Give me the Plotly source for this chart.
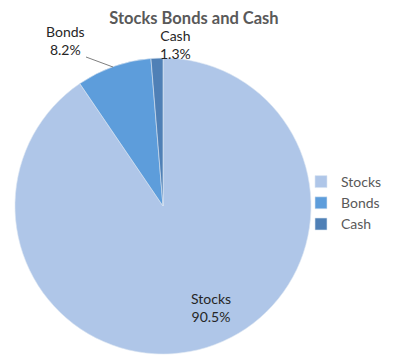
import plotly.graph_objects as go

labels = ["Stocks", "Bonds", "Cash"]
values = [90.5, 8.2, 1.3]
colors = ["#afc6e8", "#5d9ddb", "#4f80b6"]

# label anchor spots (pixels in the 400x361 picture)
label_px = [(211, 307), (65, 41), (175, 45)]

# page body has an 8px margin; size the figure to fit inside the window
OFF = 8
W, H = 400 - OFF, 361 - OFF
FONT = "Lato, Open Sans, sans-serif"


def fx(px):
    return (px - OFF) / W


def fy(py):
    return 1 - (py - OFF) / H


fig = go.Figure(go.Pie(
    labels=labels,
    values=values,
    sort=False,
    direction="clockwise",
    rotation=0,
    marker=dict(colors=colors, line=dict(color="#dce6f2", width=0.6)),
    textinfo="none",
    hoverinfo="label+percent",
    domain=dict(x=[fx(15), fx(311)], y=[fy(354), fy(58)]),
))

total = sum(values)
for lab, val, (px, py) in zip(labels, values, label_px):
    fig.add_annotation(
        x=fx(px), y=fy(py), xref="paper", yref="paper",
        text=f"{lab}<br>{100 * val / total:.1f}%",
        showarrow=False, xanchor="center", yanchor="middle",
        font=dict(family=FONT, size=14, color="#262626"),
    )

# leader line for Bonds label
fig.add_shape(
    type="line", xref="paper", yref="paper",
    x0=fx(86), y0=fy(57), x1=fx(113), y1=fy(67),
    line=dict(color="#7f7f7f", width=1),
)

fig.update_layout(
    width=W, height=H,
    margin=dict(l=0, r=0, t=0, b=0),
    paper_bgcolor="white",
    title=dict(text="<b>Stocks Bonds and Cash</b>", x=fx(194), xanchor="center", y=fy(18), yanchor="middle",
               font=dict(family=FONT, size=16.5, color="#595959")),
    legend=dict(x=fx(301), y=fy(203), xanchor="left", yanchor="middle",
                bgcolor="rgba(0,0,0,0)",
                font=dict(family=FONT, size=14, color="#595959"),
                itemwidth=30, tracegroupgap=0),
    showlegend=True,
)
fig.write_html("out.html")
